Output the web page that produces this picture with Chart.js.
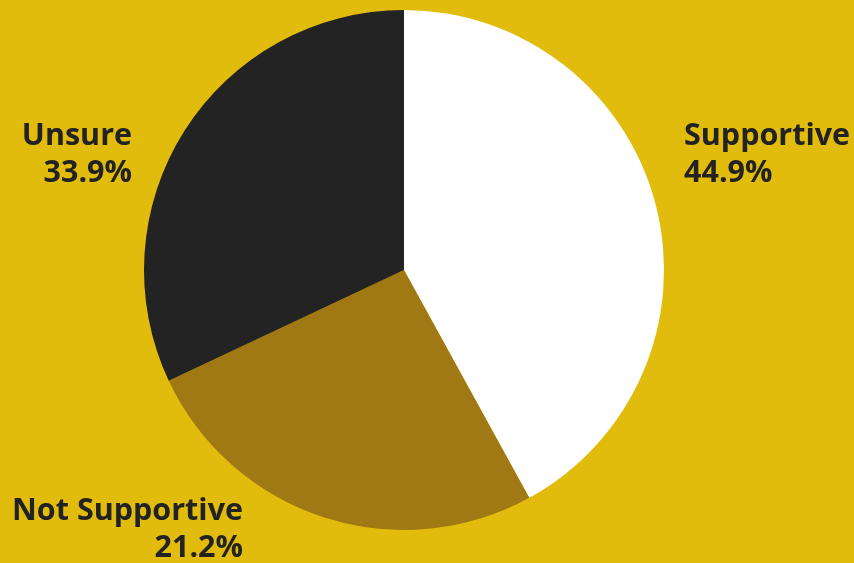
<!DOCTYPE html>
<html>
<head>
<meta charset="utf-8">
<script src="https://cdn.jsdelivr.net/npm/chart.js@4"></script>
<style>
  html, body { margin: 0; padding: 0; background: #E1BC0C; }
  #wrap { width: 854px; height: 563px; position: relative; }
</style>
</head>
<body>
<div id="wrap"><canvas id="pieChart"></canvas></div>
<script>
// Slice data and the printed labels
const categories = ['Supportive', 'Not Supportive', 'Unsure'];
const sliceValues = [42.0, 26.0, 32.0];
const labelPercents = ['44.9%', '21.2%', '33.9%'];
const sliceColors = ['#FFFFFF', '#A07814', '#232323'];

// Where each label sits: x/y of first baseline, text alignment
const labelSpots = [
    { x: 684, y: 145, align: 'left' },
    { x: 243, y: 520, align: 'right' },
    { x: 132, y: 145, align: 'right' }
];

const labelPlugin = {
    id: 'sliceLabels',
    afterDraw(chart) {
        const ctx = chart.ctx;
        ctx.save();
        ctx.fillStyle = '#222222';
        ctx.font = 'bold 30.5px "Open Sans", sans-serif';
        ctx.textBaseline = 'alphabetic';
        categories.forEach((name, i) => {
            const spot = labelSpots[i];
            ctx.textAlign = spot.align;
            ctx.fillText(name, spot.x, spot.y);
            ctx.fillText(labelPercents[i], spot.x, spot.y + 37);
        });
        ctx.restore();
    }
};

new Chart(document.getElementById('pieChart'), {
    type: 'pie',
    data: {
        labels: categories,
        datasets: [{
            data: sliceValues,
            backgroundColor: sliceColors,
            borderWidth: 0
        }]
    },
    options: {
        responsive: true,
        maintainAspectRatio: false,
        animation: false,
        layout: {
            padding: { top: 10, bottom: 33, left: 144, right: 190 }
        },
        plugins: {
            legend: { display: false },
            tooltip: { enabled: false }
        }
    },
    plugins: [labelPlugin]
});
</script>
</body>
</html>
